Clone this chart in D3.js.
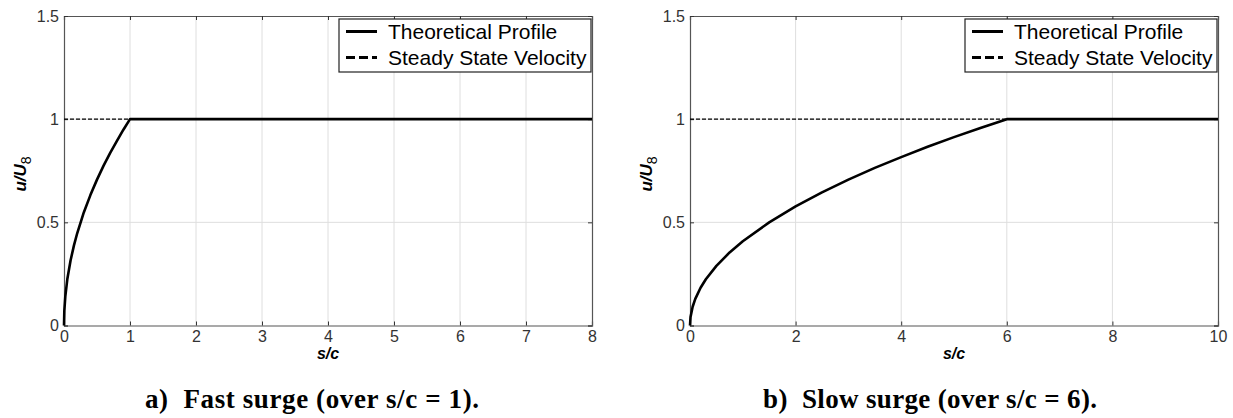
<!DOCTYPE html>
<html lang="en">
<head>
    <meta charset="utf-8">
    <title>Surge velocity profiles</title>
    <script src="https://d3js.org/d3.v7.min.js"></script>
    <style>
        body { margin: 0; background: #fff; }
    </style>
</head>
<body>
    <svg width="1233" height="418" id="mainsvg"></svg>

    <script>
        // panel a) fast surge
        const fastS = [0, 0.005, 0.02, 0.05, 0.1, 0.15, 0.2, 0.3, 0.4, 0.5, 0.6, 0.7, 0.8, 0.9, 1, 8]
        const fastU = [0, 0.071, 0.141, 0.224, 0.316, 0.387, 0.447, 0.548, 0.632, 0.707, 0.775, 0.837, 0.894, 0.949, 1, 1]
        // panel b) slow surge
        const slowS = [0, 0.01, 0.05, 0.1, 0.2, 0.3, 0.5, 0.75, 1, 1.5, 2, 2.5, 3, 3.5, 4, 4.5, 5, 5.5, 6, 10]
        const slowU = [0, 0.041, 0.091, 0.129, 0.183, 0.224, 0.289, 0.354, 0.408, 0.5, 0.577, 0.645, 0.707, 0.764, 0.816, 0.866, 0.913, 0.957, 1, 1]

        const steadyU = 1
        const yTicks = [0, 0.5, 1, 1.5]
        const fastTicks = [0, 1, 2, 3, 4, 5, 6, 7, 8]
        const slowTicks = [0, 2, 4, 6, 8, 10]
        const legendLabels = ['Theoretical Profile', 'Steady State Velocity']
        const captions = ['a)  Fast surge (over s/c = 1).', 'b)  Slow surge (over s/c = 6).']

        const svg = d3.select('#mainsvg')
        const font = 'Arial, "Liberation Sans", sans-serif'

        const panels = [
            {left: 64, right: 592, s: fastS, u: fastU, max: 8, ticks: fastTicks, caption: captions[0], capX: 312},
            {left: 690, right: 1218, s: slowS, u: slowU, max: 10, ticks: slowTicks, caption: captions[1], capX: 930}
        ]
        const plotTop = 16, plotBottom = 325.5

        const renderPanel = function (p) {
            const xScale = d3.scaleLinear().domain([0, p.max]).range([p.left, p.right])
            const yScale = d3.scaleLinear().domain([0, 1.5]).range([plotBottom, plotTop])
            const g = svg.append('g')

            // grid
            g.selectAll('.vgrid').data(p.ticks.slice(1, -1)).join('line')
                .attr('x1', d => xScale(d)).attr('x2', d => xScale(d))
                .attr('y1', plotTop).attr('y2', plotBottom)
                .attr('stroke', '#dedede').attr('stroke-width', 1)
            g.selectAll('.hgrid').data(yTicks.slice(1, -1)).join('line')
                .attr('x1', p.left).attr('x2', p.right)
                .attr('y1', d => yScale(d)).attr('y2', d => yScale(d))
                .attr('stroke', '#dedede').attr('stroke-width', 1)

            // axes, ticks inward like matlab
            const xAxis = d3.axisBottom(xScale).tickValues(p.ticks).tickSize(-4).tickPadding(5)
            const xTop = d3.axisTop(xScale).tickValues(p.ticks).tickSize(-4).tickFormat('')
            const yAxis = d3.axisLeft(yScale).tickValues(yTicks).tickSize(-4).tickPadding(5).tickFormat(d3.format('~g'))
            const yRight = d3.axisRight(yScale).tickValues(yTicks).tickSize(-4).tickFormat('')

            const axes = [
                g.append('g').attr('transform', `translate(0, ${plotBottom})`).call(xAxis),
                g.append('g').attr('transform', `translate(0, ${plotTop})`).call(xTop),
                g.append('g').attr('transform', `translate(${p.left}, 0)`).call(yAxis),
                g.append('g').attr('transform', `translate(${p.right}, 0)`).call(yRight)
            ]
            axes.forEach(a => {
                a.select('.domain').attr('stroke', '#555').attr('stroke-width', 1.2)
                a.selectAll('.tick line').attr('stroke', '#333')
                a.selectAll('.tick text').attr('font-family', font).attr('font-size', 16).attr('fill', '#333')
            })

            // steady state dashed line
            g.append('line')
                .attr('x1', xScale(0)).attr('x2', xScale(p.max))
                .attr('y1', yScale(steadyU)).attr('y2', yScale(steadyU))
                .attr('stroke', '#000').attr('stroke-width', 1.3)
                .attr('stroke-dasharray', '4,2')

            // theoretical profile
            const line = d3.line()
                .x((d, i) => xScale(p.s[i]))
                .y(d => yScale(d))
            g.append('path')
                .attr('d', line(p.u))
                .attr('fill', 'none').attr('stroke', '#000').attr('stroke-width', 2.6)
                .attr('stroke-linejoin', 'round')

            // legend
            const lw = 252, lx = p.right - 1 - lw, ly = 19
            const lg = g.append('g').attr('transform', `translate(${lx}, ${ly})`)
            lg.append('rect').attr('width', lw).attr('height', 53)
                .attr('fill', '#fff').attr('stroke', '#222').attr('stroke-width', 1.2)
            legendLabels.forEach((t, i) => {
                const cy = 12.5 + i * 26
                lg.append('line').attr('x1', 7).attr('x2', 38).attr('y1', cy).attr('y2', cy)
                    .attr('stroke', '#000').attr('stroke-width', 3)
                    .attr('stroke-dasharray', i === 1 ? '9,4' : null)
                lg.append('text').attr('x', 49).attr('y', cy).attr('dy', '0.35em')
                    .attr('font-family', font).attr('font-size', 21).attr('fill', '#000')
                    .text(t)
            })

            // axis labels
            const cx = (p.left + p.right) / 2
            g.append('text').attr('x', cx).attr('y', 359)
                .attr('text-anchor', 'middle')
                .attr('font-family', font).attr('font-size', 16)
                .attr('font-weight', 'bold').attr('font-style', 'italic')
                .text('s/c')
            const yl = g.append('text')
                .attr('transform', `translate(${p.left - 38}, 174) rotate(-90)`)
                .attr('text-anchor', 'middle')
                .attr('font-family', font).attr('font-size', 17)
                .attr('font-weight', 'bold').attr('font-style', 'italic')
            yl.append('tspan').text('u/U')
            yl.append('tspan').attr('font-size', 14).attr('font-style', 'normal').attr('font-weight', 'normal')
                .attr('dy', 5).text('8')

            // caption
            svg.append('text').attr('x', p.capX).attr('y', 408)
                .attr('text-anchor', 'middle')
                .attr('font-family', '"Liberation Serif", "DejaVu Serif", serif')
                .attr('font-size', 27).attr('font-weight', 'bold')
                .attr('textLength', 334).attr('lengthAdjust', 'spacing')
                .attr('xml:space', 'preserve').style('white-space', 'pre')
                .text(p.caption)
        }

        panels.forEach(renderPanel)
    </script>
</body>
</html>
